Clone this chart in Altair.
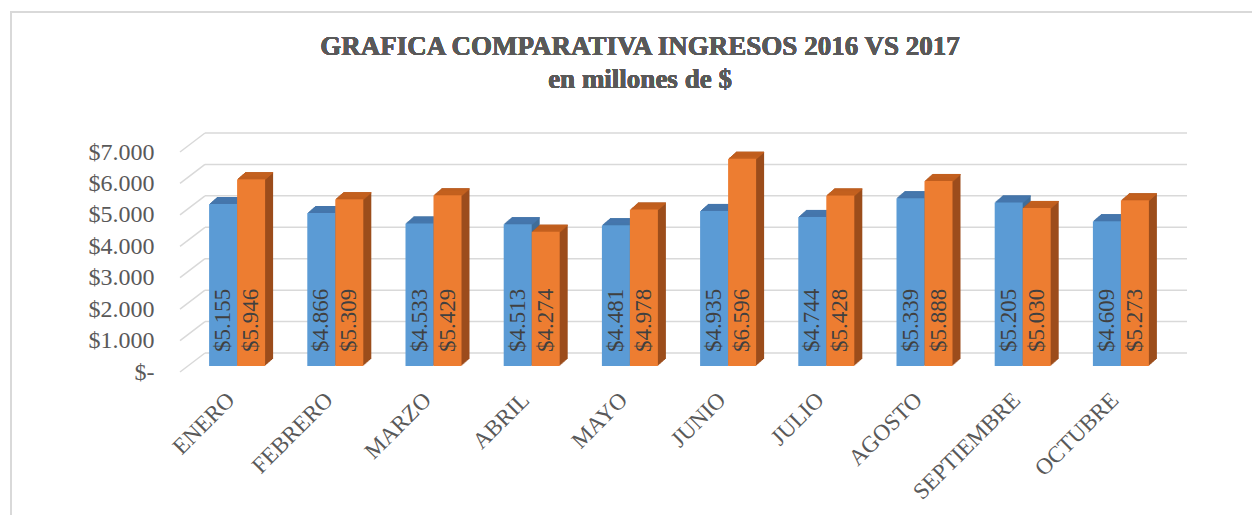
import altair as alt
import pandas as pd

months = ["ENERO", "FEBRERO", "MARZO", "ABRIL", "MAYO", "JUNIO", "JULIO",
          "AGOSTO", "SEPTIEMBRE", "OCTUBRE"]
ingresos_2016 = [5155, 4866, 4533, 4513, 4481, 4935, 4744, 5339, 5205, 4609]
ingresos_2017 = [5946, 5309, 5429, 4274, 4978, 6596, 5428, 5888, 5030, 5273]
y_ticks = [0, 1000, 2000, 3000, 4000, 5000, 6000, 7000]
title_text = "GRAFICA COMPARATIVA INGRESOS 2016 VS 2017"
subtitle_text = "en millones de $"

rows = []
for m, a, b in zip(months, ingresos_2016, ingresos_2017):
    rows.append({"mes": m, "anio": "2016", "v": a})
    rows.append({"mes": m, "anio": "2017", "v": b})
df = pd.DataFrame(rows)
df["label"] = ["$" + f"{v:,}".replace(",", ".") for v in df["v"]]
grid_df = pd.DataFrame({"g": y_ticks})

W, H = 982, 220
FONT = "Liberation Serif"
GRID = "#D9D9D9"

x_enc = alt.X("mes:N", sort=months, scale=alt.Scale(paddingInner=0, paddingOuter=0),
              axis=alt.Axis(title=None, labelAngle=-45, labelAlign="right",
                            labelBaseline="middle", ticks=False, domain=False, grid=False,
                            labelPadding=30, labelOffset=-6, labelFont=FONT, labelFontSize=23,
                            labelColor="#595959", labelLimit=300, labelOverlap=False))
y_scale = alt.Scale(domain=[0, 7000], nice=False)
y_axis = alt.Axis(title=None, values=y_ticks, grid=False, ticks=False, domain=False,
                  labelPadding=34, labelOffset=6, labelFont=FONT, labelFontSize=24,
                  labelColor="#595959", labelOverlap=False,
                  labelExpr="datum.value == 0 ? '$-' : '$' + replace(format(datum.value, ',.0f'), ',', '.')")


def yq(field):
    return alt.Y(field, scale=y_scale, axis=y_axis)


base = alt.Chart(df)

border = alt.Chart(grid_df).mark_rect(filled=False, stroke=GRID, strokeWidth=2).encode(
    x=alt.value(-177), x2=alt.value(1300), y=alt.value(-134), y2=alt.value(600))

title_mark = alt.Chart(grid_df).mark_text(font=FONT, fontSize=27, fontWeight="bold",
                                          color="#595959", baseline="middle", align="center").encode(
    x=alt.value(452), y=alt.value(-99), text=alt.value(title_text))
subtitle_mark = alt.Chart(grid_df).mark_text(font=FONT, fontSize=27, fontWeight="bold",
                                             color="#595959", baseline="middle", align="center").encode(
    x=alt.value(452), y=alt.value(-66), text=alt.value(subtitle_text))

grid_diag = alt.Chart(grid_df).mark_rule(color=GRID, strokeWidth=1.5, yOffset=6, y2Offset=-13).encode(
    x=alt.value(-8), x2=alt.value(17), y=yq("g:Q"), y2="g:Q")
grid_back = alt.Chart(grid_df).mark_rule(color=GRID, strokeWidth=1.5, yOffset=-13).encode(
    x=alt.value(17), x2=alt.value(999), y=yq("g:Q"))

layers = [border, title_mark, subtitle_mark, grid_diag, grid_back]
styles = {
    "2016": {"shift": -14, "main": "#5B9BD5", "top": "#4677AD", "side": "#3F6E9A"},
    "2017": {"shift": 14, "main": "#ED7D31", "top": "#C3601F", "side": "#9C4D1C"},
}
DEPTH = 8
for year in ["2016", "2017"]:
    s = styles[year]
    yb = base.transform_filter(alt.datum.anio == year)
    for k in range(DEPTH, 0, -1):
        dy = -0.875 * k
        layers.append(yb.mark_bar(width=28, xOffset=s["shift"] + k, yOffset=dy, y2Offset=dy,
                                  color=s["side"]).encode(x=x_enc, y=yq("v:Q")))
    for k in range(DEPTH, 0, -1):
        dy = -0.875 * k
        layers.append(yb.mark_bar(width=28, xOffset=s["shift"] + k, yOffset=dy, y2Offset=dy + 1.3,
                                  color=s["top"]).encode(x=x_enc, y=yq("v:Q"), y2="v:Q"))
    layers.append(yb.mark_bar(width=28, xOffset=s["shift"], color=s["main"]).encode(
        x=x_enc, y=yq("v:Q")))
for year in ["2016", "2017"]:
    s = styles[year]
    yb = base.transform_filter(alt.datum.anio == year)
    layers.append(yb.mark_text(angle=270, align="left", baseline="middle", xOffset=s["shift"],
                               yOffset=-14, font=FONT, fontSize=23, color="#404040").encode(
        x=x_enc, y=alt.datum(0, scale=y_scale, axis=y_axis), text="label:N"))

chart = alt.layer(*layers).properties(
    width=W, height=H,
    background="white",
    autosize=alt.AutoSizeParams(type="none"),
    padding={"left": 180, "top": 138, "right": 82, "bottom": 149},
).configure_view(strokeWidth=0, stroke="transparent")

chart.save("out.html", embed_options={"renderer": "svg", "actions": False})
